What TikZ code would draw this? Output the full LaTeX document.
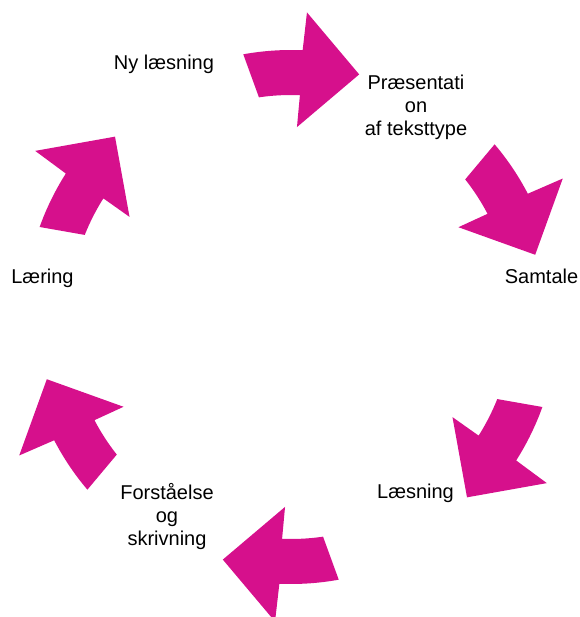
\documentclass[tikz,border=0pt]{standalone}
\usepackage{fontspec}
\setmainfont{Liberation Sans}
\definecolor{berry}{RGB}{214,16,140}
\begin{document}
\begin{tikzpicture}[x=1pt,y=1pt,
  lbl/.style={font=\fontsize{20}{23}\selectfont, align=center, inner sep=0pt},
  cyc/.style={fill=berry, draw=none}]
\useasboundingbox (-291,-300) rectangle (288,317);
\foreach \t in {74.3,14.3,-45.7,-105.7,-165.7,134.3}{
  \fill[cyc] ({\t+26}:267) arc[start angle={\t+26}, end angle={\t+13.2}, radius=267]
    -- ({\t+12.7}:305) -- (\t:252) -- ({\t+13.9}:190) -- ({\t+13.4}:222)
    arc[start angle={\t+13.4}, end angle={\t+24}, radius=222] -- cycle;
}
\node[lbl] (ny) at (-127,253) {Ny læsning};
\node[lbl] (pr) at (125,209.5) {Præsentati\\on\\af teksttype};
\node[lbl] (sa) at (250.5,40.5) {Samtale};
\node[lbl] (lr) at (-248.5,39) {Læring};
\node[lbl] (ls) at (124.5,-176.5) {Læsning};
\node[lbl] (fo) at (-124,-199.5) {Forståelse\\og\\skrivning};
\end{tikzpicture}
\end{document}
